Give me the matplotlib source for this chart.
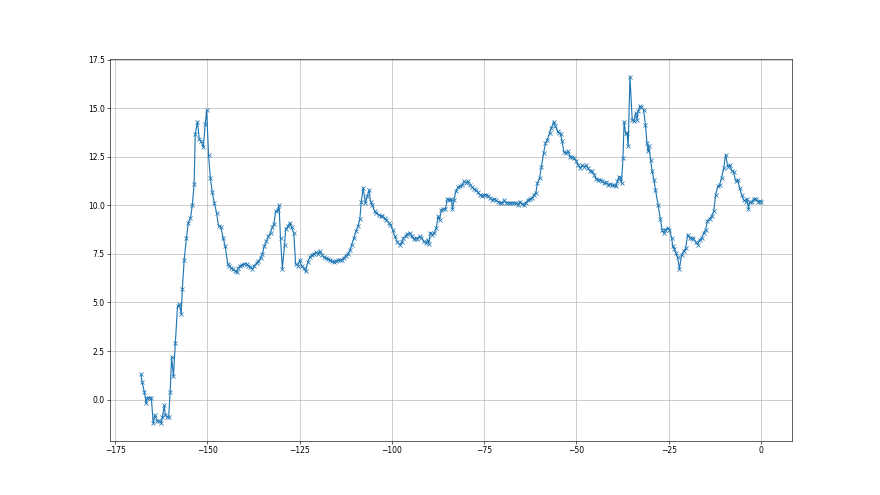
import matplotlib
matplotlib.use("Agg")
import matplotlib.pyplot as plt
import numpy as np

# series values (x in data units, y values)
x_vals = [
    -168.0, -167.7, -167.1, -166.6, -166.3, -165.8, -165.2, -164.7, -164.2, -163.6,
    -163.1, -162.5, -162.2, -161.7, -161.4, -160.9, -160.5, -160.1, -159.7, -159.2,
    -158.7, -158.1, -157.6, -157.1, -156.8, -156.3, -155.7, -155.2, -154.6, -154.1,
    -153.6, -153.3, -152.7, -152.2, -151.7, -151.1, -150.6, -150.2, -149.7, -149.2,
    -148.7, -148.1, -147.5, -147.0, -146.4, -145.7, -145.2, -144.5,
    -144.1, -143.6, -143.1, -142.5, -142.1, -141.6, -141.1, -140.5, -140.0, -139.4,
    -138.9, -138.4, -137.8, -137.3, -136.7, -136.2, -135.6, -135.1, -134.6, -134.0,
    -133.5, -132.9, -132.4, -132.0, -131.5, -131.0, -130.6, -130.2, -129.7, -129.1,
    -128.8, -128.2, -127.7, -127.2, -126.6, -126.1, -125.5, -125.0, -124.4, -123.9,
    -123.4, -122.8, -122.3, -121.7, -121.2, -120.6, -120.1, -119.6, -119.0, -118.5,
    -117.9, -117.4, -116.8, -116.3, -115.8, -115.2, -114.7, -114.1, -113.6, -113.0,
    -112.5, -112.0, -111.4, -110.9, -110.3, -109.8, -109.2, -108.7, -108.3, -107.8,
    -107.2, -106.7, -106.2, -105.8, -105.3, -104.7, -104.2, -103.6, -103.1, -102.6,
    -102.0, -101.5, -100.9, -100.4, -99.8, -99.3,
    -98.5, -97.9, -97.4, -96.9, -96.3, -95.8, -95.2, -94.7, -94.1, -93.6,
    -93.1, -92.5, -92.0, -91.4, -90.9, -90.3, -90.0, -89.6, -89.1, -88.5,
    -88.0, -87.5, -87.1, -86.6, -86.1, -85.5, -85.0, -84.5, -83.9, -83.6,
    -83.2, -82.7, -82.1, -81.6, -81.0, -80.5, -80.0, -79.4, -78.9, -78.3,
    -77.8, -77.2, -76.7, -76.2, -75.6, -75.1, -74.5, -74.0, -73.4, -72.9,
    -72.4, -71.8, -71.3, -70.7, -70.2, -69.6, -69.1, -68.6, -68.0, -67.5,
    -66.9, -66.4, -65.8, -65.3, -64.8, -64.2, -63.7, -63.1, -62.6, -62.0,
    -61.5, -61.0, -60.6, -60.0, -59.5, -58.9, -58.4, -57.9, -57.3, -56.8,
    -56.2, -55.7, -55.1,
    -54.8, -54.3, -53.9, -53.4, -52.8, -52.3, -51.7, -51.2, -50.7, -50.1,
    -49.6, -49.0, -48.5, -47.9, -47.4, -46.9, -46.3, -45.8, -45.2, -44.7,
    -44.1, -43.6, -43.1, -42.5, -42.0, -41.4, -40.9, -40.3, -39.8, -39.3,
    -38.9, -38.5, -38.2, -37.8, -37.4, -37.1, -36.7, -36.3, -36.0, -35.5,
    -34.9, -34.4, -34.0, -33.6, -33.3, -32.9, -32.4, -31.8, -31.3, -30.9,
    -30.6, -30.4, -29.9, -29.5, -29.0, -28.6, -27.9, -27.3, -26.8, -26.4,
    -25.9, -25.3, -24.8, -24.2, -23.9, -23.5, -23.1, -22.6, -22.1, -21.5,
    -21.0, -20.4, -19.9, -19.3, -18.8, -18.3, -17.7, -17.2, -16.6, -16.1,
    -15.5, -15.0, -14.5, -13.9, -13.4, -12.8, -12.3, -11.7, -11.2, -10.7,
    -10.1, -9.6, -9.0, -8.5, -7.9, -7.4, -6.9, -6.3, -5.8, -5.2,
    -4.7, -4.2, -3.8, -3.4, -3.1, -2.5, -2.0, -1.4, -0.9, -0.4,
    0.0,
]

y_vals = [
    1.3, 0.9, 0.4, -0.2, 0.1, 0.1, 0.1, -1.22, -0.8, -1.1,
    -1.1, -1.2, -0.9, -0.3, -0.8, -0.9, -0.9, 0.4, 2.2, 1.2,
    2.9, 4.8, 4.9, 4.4, 5.7, 7.2, 8.3, 9.1, 9.35, 10.0,
    11.1, 13.7, 14.3, 13.4, 13.3, 13.0, 14.2, 14.9, 12.6, 11.4,
    10.7, 10.1, 9.6, 8.95, 8.9, 8.3, 7.9, 7.0,
    6.9, 6.78, 6.7, 6.64, 6.55, 6.78, 6.9, 6.95, 7.0, 6.98,
    6.9, 6.83, 6.72, 6.9, 7.03, 7.12, 7.29, 7.5, 7.9, 8.15,
    8.4, 8.6, 8.87, 9.04, 9.7, 9.74, 10.0, 8.3, 6.74, 7.98,
    8.78, 8.92, 9.1, 8.87, 8.58, 6.98, 6.9, 7.17, 6.86, 6.78,
    6.6, 7.08, 7.32, 7.46, 7.5, 7.58, 7.5, 7.63, 7.46, 7.34,
    7.29, 7.26, 7.17, 7.12, 7.07, 7.15, 7.17, 7.17, 7.2, 7.29,
    7.41, 7.5, 7.68, 7.98, 8.32, 8.66, 8.92, 9.3, 10.2, 10.9,
    10.12, 10.46, 10.8, 10.2, 10.0, 9.7, 9.6, 9.5, 9.47, 9.43,
    9.35, 9.23, 9.12, 9.0, 8.75, 8.44,
    8.1, 7.98, 8.1, 8.32, 8.4, 8.54, 8.58, 8.4, 8.27, 8.32,
    8.27, 8.4, 8.32, 8.15, 8.06, 8.2, 8.03, 8.6, 8.5, 8.58,
    8.84, 9.43, 9.26, 9.78, 9.81, 9.81, 10.33, 10.29, 10.33, 9.81,
    10.26, 10.72, 10.95, 10.98, 11.07, 11.24, 11.18, 11.24, 11.07, 10.95,
    10.84, 10.77, 10.67, 10.55, 10.5, 10.55, 10.55, 10.5, 10.38, 10.29,
    10.33, 10.26, 10.2, 10.15, 10.12, 10.26, 10.15, 10.15, 10.12, 10.12,
    10.12, 10.12, 10.04, 10.2, 10.09, 10.04, 10.15, 10.29, 10.33, 10.38,
    10.55, 10.64, 11.15, 11.41, 12.0, 12.7, 13.21, 13.38, 13.73, 13.98,
    14.32, 14.07, 13.81,
    13.75, 13.67, 13.3, 12.75, 12.7, 12.78, 12.52, 12.47, 12.44, 12.3,
    12.1, 11.92, 12.06, 12.0, 12.06, 11.92, 11.79, 11.75, 11.58, 11.37,
    11.32, 11.32, 11.27, 11.15, 11.2, 11.07, 11.1, 11.03, 11.03, 10.98,
    11.24, 11.49, 11.41, 11.15, 12.44, 14.32, 13.73, 13.73, 13.04, 16.63,
    14.41, 14.36, 14.75, 14.41, 14.84, 15.1, 15.05, 14.93, 14.12, 13.21,
    12.78, 13.04, 12.35, 11.75, 11.32, 10.81, 10.04, 9.32, 8.75, 8.58,
    8.75, 8.84, 8.75, 8.32, 7.89, 7.77, 7.55, 7.32, 6.74, 7.46,
    7.63, 7.8, 8.49, 8.32, 8.32, 8.29, 8.12, 7.98, 8.23, 8.32,
    8.58, 8.75, 9.21, 9.32, 9.43, 9.69, 10.55, 10.98, 11.07, 11.41,
    11.92, 12.61, 12.0, 12.1, 11.79, 11.72, 11.27, 11.32, 10.9, 10.52,
    10.29, 10.2, 10.34, 9.83, 10.17, 10.17, 10.34, 10.34, 10.2, 10.24,
    10.2,
]

# big figure rendered at low dpi so everything scales like the reference
fig, ax = plt.subplots(figsize=(16, 9), dpi=55)
ax.plot(x_vals, y_vals, marker='x')
ax.grid(True)

plt.savefig('out.png', dpi=55)
